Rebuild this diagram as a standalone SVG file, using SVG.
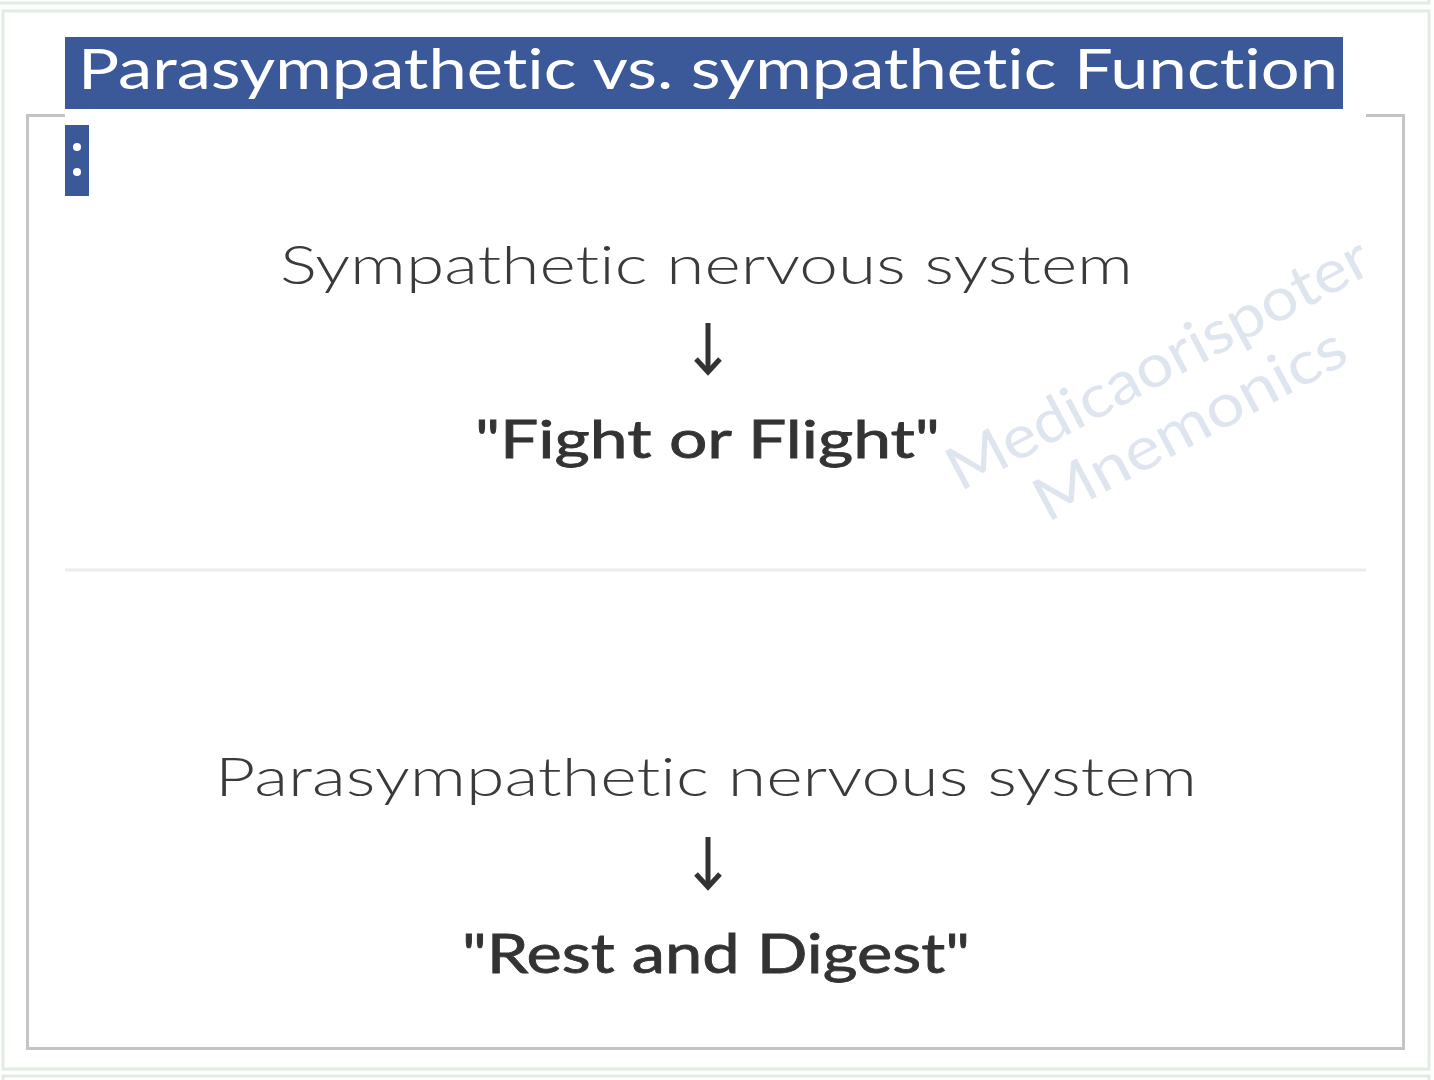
<svg xmlns="http://www.w3.org/2000/svg" width="1434" height="1080" viewBox="0 0 1434 1080">
  <style>
    text { font-variant-ligatures: none; font-feature-settings: "liga" 0, "clig" 0; }
    .frame { fill: none; stroke: #e2ece3; stroke-width: 3; }
    .panel { fill: none; stroke: #c4c4c4; stroke-width: 3; }
    .light { font-family: Lato, "Open Sans", sans-serif; font-weight: 300; fill: #3a3a3a; }
    .bold { font-family: Lato, "Open Sans", sans-serif; font-weight: 400; fill: #333333; stroke: #333333; stroke-width: 0.8; }
    .title { font-family: Lato, "Open Sans", sans-serif; font-weight: 400; fill: #ffffff; }
    .wm { font-family: Lato, "Open Sans", sans-serif; font-weight: 400; fill: #dfe5ef; }
    .arrow { fill: none; stroke: #333333; stroke-width: 5; }
  </style>
  <rect x="0" y="0" width="1434" height="1080" fill="#ffffff"/>
  <g id="frames">
    <polyline class="frame" points="0,3 1429,3 1429,0"/>
    <rect class="frame" x="3" y="11" width="1426" height="1058"/>
    <polyline class="frame" points="3,1080 3,1076 1429,1076 1429,1080"/>
    <rect class="panel" x="27.5" y="115.5" width="1376" height="933"/>
    <rect x="65" y="105" width="1301" height="14" fill="#ffffff"/>
  </g>
  <g id="title">
    <rect x="65" y="37" width="1278" height="72" fill="#3b5998"/>
    <text class="title" x="78" y="89" font-size="57" textLength="1260" lengthAdjust="spacingAndGlyphs">Parasympathetic vs. sympathetic Function</text>
    <rect x="65" y="125" width="24" height="71" fill="#3b5998"/>
    <circle cx="77" cy="147" r="4" fill="#ffffff"/>
    <circle cx="77" cy="172" r="4" fill="#ffffff"/>
  </g>
  <g id="watermark">
    <text class="wm" transform="translate(960,492) rotate(-28)" font-size="60" textLength="470" lengthAdjust="spacingAndGlyphs">Medicaorispoter</text>
    <text class="wm" transform="translate(1047,523) rotate(-28)" font-size="60" textLength="345" lengthAdjust="spacingAndGlyphs">Mnemonics</text>
  </g>
  <g id="sympathetic">
    <text class="light" x="280" y="284" font-size="53" textLength="853" lengthAdjust="spacingAndGlyphs">Sympathetic nervous system</text>
  </g>
  <g id="fight-or-flight">
    <text class="bold" x="475" y="458" font-size="52" textLength="465" lengthAdjust="spacingAndGlyphs">"Fight or Flight"</text>
  </g>
  <line x1="65" y1="570" x2="1366" y2="570" stroke="#ececec" stroke-width="3"/>
  <g id="parasympathetic">
    <text class="light" x="215" y="796" font-size="53" textLength="982" lengthAdjust="spacingAndGlyphs">Parasympathetic nervous system</text>
  </g>
  <g id="rest-and-digest">
    <text class="bold" x="462" y="973" font-size="55" textLength="508" lengthAdjust="spacingAndGlyphs">"Rest and Digest"</text>
  </g>
  <g id="connectors">
    <line class="arrow" x1="708" y1="323" x2="708" y2="372"/>
    <polyline class="arrow" points="696,359 708,372 720,359"/>
    <line class="arrow" x1="708" y1="837" x2="708" y2="887"/>
    <polyline class="arrow" points="696,874 708,887 720,874"/>
  </g>
</svg>
